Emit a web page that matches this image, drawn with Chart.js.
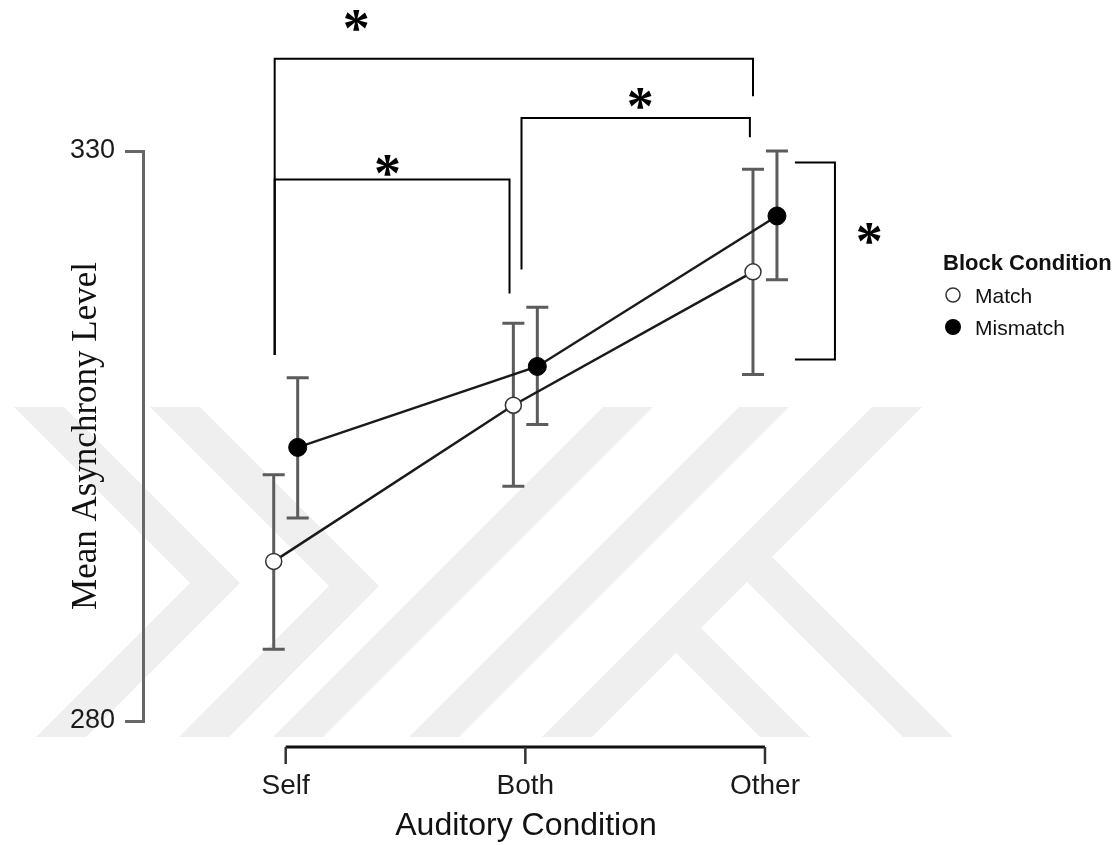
<!DOCTYPE html>
<html>
<head>
<meta charset="utf-8">
<script src="https://cdn.jsdelivr.net/npm/chart.js@4.4.1/dist/chart.umd.min.js"></script>
<style>
  html, body { margin: 0; padding: 0; background: #fff; }
  #wrap { width: 1120px; height: 845px; }
</style>
</head>
<body>
<div id="wrap"><canvas id="asynchronyChart" width="1120" height="845"></canvas></div>
<script>
// Mean asynchrony by auditory condition and block condition
const categories = ['Self', 'Both', 'Other'];
const matchMeans = [294.0, 307.7, 319.4];
const matchLow = [286.3, 300.6, 310.4];
const matchHigh = [301.6, 314.9, 328.4];
const mismatchMeans = [304.0, 311.1, 324.3];
const mismatchLow = [297.8, 306.0, 318.7];
const mismatchHigh = [310.1, 316.3, 330.0];
const yTicks = [280, 330];

// significance brackets, in axis units (x = category index, y = ms)
const brackets = [
    { x1: -0.046, x2: 1.950, top: 338.1, y1: 312.1, y2: 334.8, star: [0.294, 341.6] },
    { x1: -0.046, x2: 0.934, top: 327.5, y1: 312.1, y2: 317.5, star: [0.425, 328.9] },
    { x1: 0.984, x2: 1.937, top: 332.9, y1: 319.6, y2: 331.2, star: [1.479, 334.7] }
];
const sideBracket = { x: 2.292, xEnd: 2.125, y1: 329.0, y2: 311.7, star: [2.435, 322.9] };

const dodge = 0.05;
const sans = '"Liberation Sans", Arial, sans-serif';
const serif = '"Liberation Serif", "Times New Roman", serif';

function points(means, shift) {
    return means.map((v, i) => ({ x: i + shift, y: v }));
}

// pale watermark behind the plot
const watermark = {
    id: 'watermark',
    beforeDraw(chart) {
        const ctx = chart.ctx;
        ctx.save();
        ctx.fillStyle = '#fff';
        ctx.fillRect(0, 0, chart.width, chart.height);
        ctx.fillStyle = '#efefef';
        const shapes = [
            [[14, 407], [64, 407], [240, 583], [86, 737], [36, 737], [190, 583]],
            [[150, 407], [200, 407], [379, 586], [229, 737], [179, 737], [329, 586]],
            [[603, 407], [653, 407], [323, 737], [273, 737]],
            [[739, 407], [789, 407], [459, 737], [409, 737]],
            [[872, 407], [922, 407], [592, 737], [542, 737]],
            [[747, 582], [772, 557], [953, 737], [903, 737]],
            [[676, 653], [701, 628], [810, 737], [760, 737]]
        ];
        shapes.forEach(pts => {
            ctx.beginPath();
            pts.forEach((p, i) => i ? ctx.lineTo(p[0], p[1]) : ctx.moveTo(p[0], p[1]));
            ctx.closePath();
            ctx.fill();
        });
        ctx.restore();
    }
};

const errorBars = {
    id: 'errorBars',
    beforeDatasetsDraw(chart) {
        const { ctx, scales: { x, y } } = chart;
        const groups = [[matchLow, matchHigh, -dodge], [mismatchLow, mismatchHigh, dodge]];
        ctx.save();
        ctx.strokeStyle = '#5c5c5c';
        ctx.lineWidth = 3;
        groups.forEach(([low, high, shift]) => {
            low.forEach((lo, i) => {
                const px = x.getPixelForValue(i + shift);
                const top = y.getPixelForValue(high[i]);
                const bot = y.getPixelForValue(lo);
                ctx.beginPath();
                ctx.moveTo(px, top); ctx.lineTo(px, bot);
                ctx.moveTo(px - 11, top); ctx.lineTo(px + 11, top);
                ctx.moveTo(px - 11, bot); ctx.lineTo(px + 11, bot);
                ctx.stroke();
            });
        });
        ctx.restore();
    }
};

const extras = {
    id: 'extras',
    afterDraw(chart) {
        const { ctx, chartArea, scales: { x, y } } = chart;
        ctx.save();
        // detached x axis
        const axisY = chartArea.bottom + 26;
        ctx.strokeStyle = '#111';
        ctx.lineWidth = 3;
        ctx.beginPath();
        ctx.moveTo(x.getPixelForValue(0), axisY);
        ctx.lineTo(x.getPixelForValue(categories.length - 1), axisY);
        ctx.stroke();
        ctx.lineWidth = 2.5;
        ctx.strokeStyle = '#333';
        categories.forEach((c, i) => {
            const px = x.getPixelForValue(i);
            ctx.beginPath();
            ctx.moveTo(px, axisY);
            ctx.lineTo(px, axisY + 17);
            ctx.stroke();
        });

        // brackets and stars
        ctx.strokeStyle = '#000';
        ctx.lineWidth = 2;
        ctx.fillStyle = '#000';
        ctx.font = 'bold 54px ' + serif;
        ctx.textAlign = 'center';
        ctx.textBaseline = 'alphabetic';
        const star = (sx, sy) => ctx.fillText('*', x.getPixelForValue(sx), y.getPixelForValue(sy) + 27);
        brackets.forEach(b => {
            ctx.beginPath();
            ctx.moveTo(x.getPixelForValue(b.x1), y.getPixelForValue(b.y1));
            ctx.lineTo(x.getPixelForValue(b.x1), y.getPixelForValue(b.top));
            ctx.lineTo(x.getPixelForValue(b.x2), y.getPixelForValue(b.top));
            ctx.lineTo(x.getPixelForValue(b.x2), y.getPixelForValue(b.y2));
            ctx.stroke();
            star(b.star[0], b.star[1]);
        });
        const s = sideBracket;
        ctx.beginPath();
        ctx.moveTo(x.getPixelForValue(s.xEnd), y.getPixelForValue(s.y1));
        ctx.lineTo(x.getPixelForValue(s.x), y.getPixelForValue(s.y1));
        ctx.lineTo(x.getPixelForValue(s.x), y.getPixelForValue(s.y2));
        ctx.lineTo(x.getPixelForValue(s.xEnd), y.getPixelForValue(s.y2));
        ctx.stroke();
        star(s.star[0], s.star[1]);

        // legend
        ctx.textAlign = 'left';
        ctx.fillStyle = '#111';
        ctx.font = 'bold 22px ' + sans;
        ctx.fillText('Block Condition', 943, 270);
        ctx.font = '21px ' + sans;
        ctx.fillText('Match', 975, 303);
        ctx.fillText('Mismatch', 975, 335);
        ctx.beginPath();
        ctx.arc(953, 295, 7, 0, Math.PI * 2);
        ctx.fillStyle = '#fff';
        ctx.fill();
        ctx.lineWidth = 1.5;
        ctx.strokeStyle = '#333';
        ctx.stroke();
        ctx.beginPath();
        ctx.arc(953, 327, 8, 0, Math.PI * 2);
        ctx.fillStyle = '#000';
        ctx.fill();
        ctx.restore();
    }
};

const ctx = document.getElementById('asynchronyChart').getContext('2d');
const asynchronyChart = new Chart(ctx, {
    type: 'line',
    data: {
        datasets: [{
            label: 'Match',
            data: points(matchMeans, -dodge),
            borderColor: '#1a1a1a',
            borderWidth: 2.5,
            pointRadius: 8,
            pointBackgroundColor: '#fff',
            pointBorderColor: '#333',
            pointBorderWidth: 1.5,
            clip: false
        }, {
            label: 'Mismatch',
            data: points(mismatchMeans, dodge),
            borderColor: '#1a1a1a',
            borderWidth: 2.5,
            pointRadius: 9,
            pointBackgroundColor: '#000',
            pointBorderColor: '#000',
            pointBorderWidth: 1,
            clip: false
        }]
    },
    options: {
        responsive: false,
        animation: false,
        layout: { padding: { top: 151, right: 211, left: 0, bottom: 0 } },
        plugins: {
            legend: { display: false },
            tooltip: { enabled: false }
        },
        scales: {
            x: {
                type: 'linear',
                min: -0.5955,
                max: 2.601,
                afterBuildTicks: s => { s.ticks = categories.map((c, i) => ({ value: i })); },
                afterFit: s => { s.height = 124; },
                grid: { display: false },
                border: { display: false },
                ticks: {
                    padding: 40,
                    color: '#1a1a1a',
                    font: { family: sans, size: 28 },
                    callback: v => categories[v]
                },
                title: {
                    display: true,
                    text: 'Auditory Condition',
                    color: '#111',
                    font: { family: sans, size: 32 },
                    padding: { top: 0, bottom: 0 }
                }
            },
            y: {
                min: 280,
                max: 330,
                afterBuildTicks: s => { s.ticks = yTicks.map(v => ({ value: v })); },
                afterFit: s => { s.width = 143; },
                grid: {
                    display: true,
                    drawOnChartArea: false,
                    drawTicks: true,
                    tickLength: 18,
                    color: '#666',
                    lineWidth: 3
                },
                border: { display: true, color: '#666', width: 3 },
                ticks: {
                    padding: 10,
                    color: '#1a1a1a',
                    font: { family: sans, size: 27 }
                },
                title: {
                    display: true,
                    text: 'Mean Asynchrony Level',
                    color: '#111',
                    font: { family: serif, size: 35 },
                    padding: { top: 66, bottom: 0 }
                }
            }
        }
    },
    plugins: [watermark, errorBars, extras]
});
</script>
</body>
</html>
